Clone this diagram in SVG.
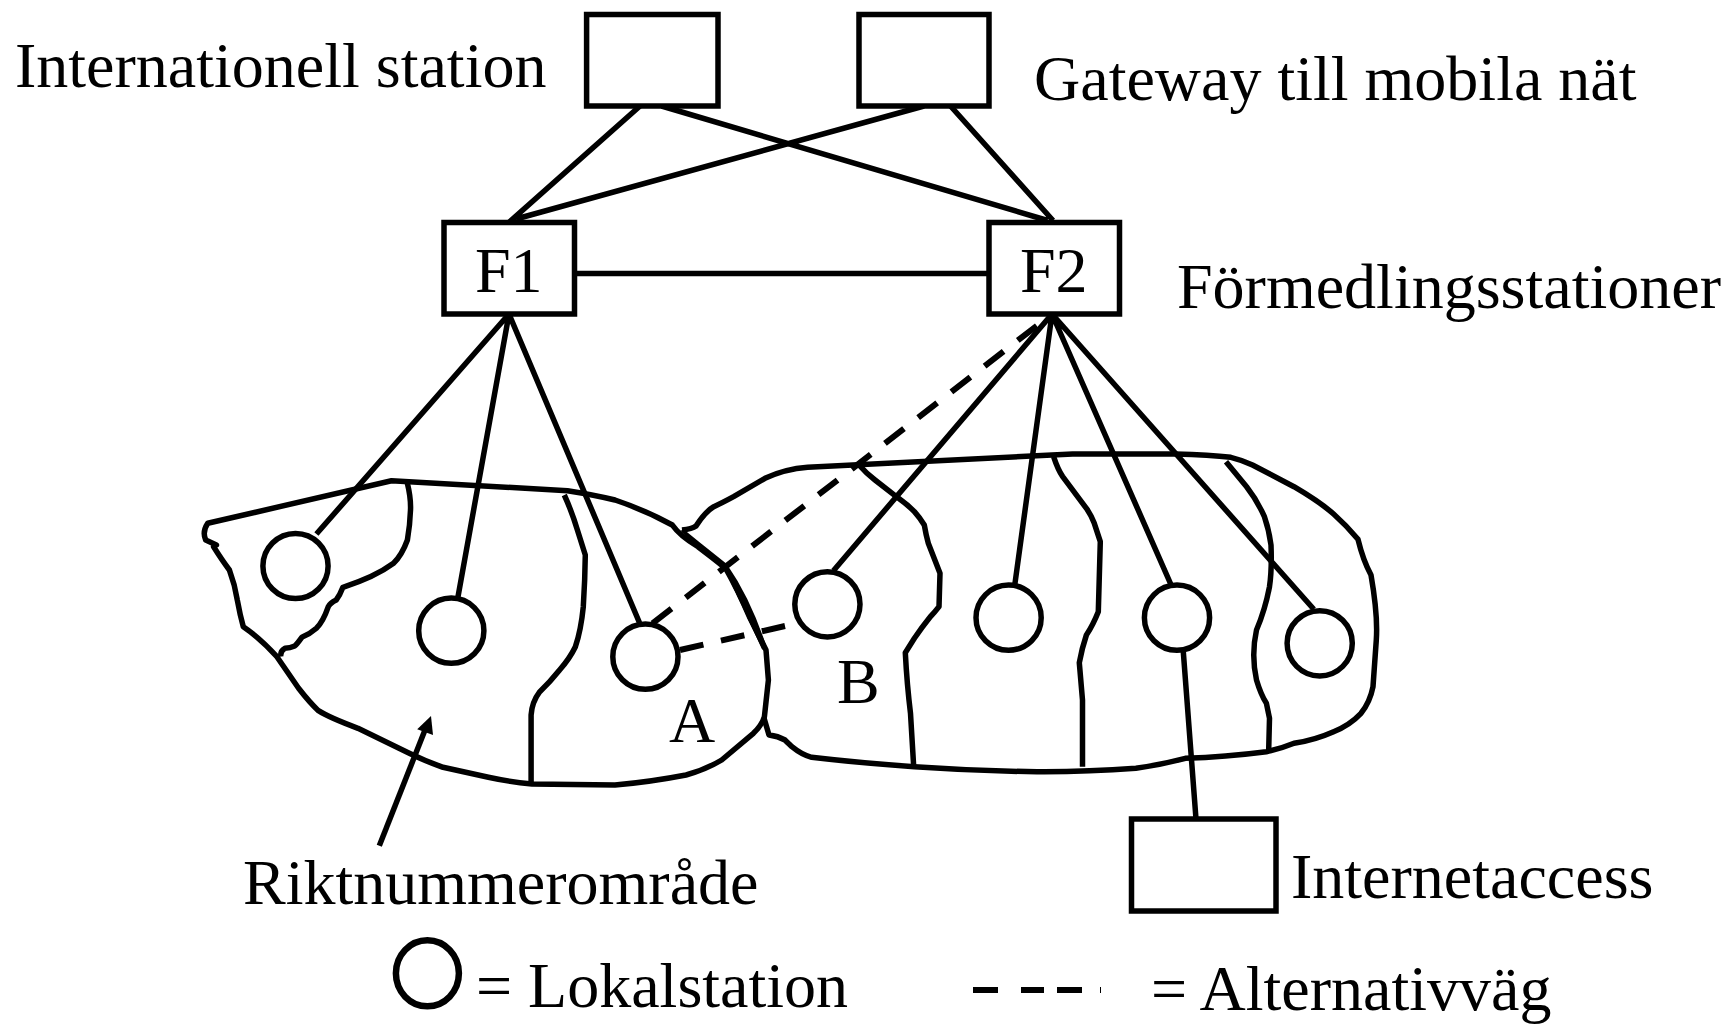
<svg xmlns="http://www.w3.org/2000/svg" width="1729" height="1025" viewBox="0 0 1729 1025">
<style>
text{font-family:"Liberation Serif","Times New Roman",serif;font-size:64px;fill:#000}
.b{fill:#fff;stroke:#000;stroke-width:5.5}
.c{fill:#fff;stroke:#000;stroke-width:5.5}
.l{fill:none;stroke:#000;stroke-width:5.5;stroke-linejoin:round}
.d{fill:none;stroke:#000;stroke-width:6;stroke-dasharray:24 18}
</style>
<rect width="1729" height="1025" fill="#fff"/>
<g id="regions">
<path class="l" d="M207.7,523.3 L391.5,480.7 L567.5,490.7 Q595,495 615,500 Q645,510 672.3,525 Q680,536 698,546.7 Q713,558 725.7,568.3 Q738,590 749.4,616.7 L766,650 L768.4,680 L764.4,716.7 Q762,725 753.4,733.3 L721.7,760 Q705,770 686,775 Q650,782 615,785 L532,784 Q510,782 488.4,777.3 L443,767.3 Q425,761 409.3,753.3 L358,728.3 Q330,718 318.4,710.7 Q310,703 298.6,688.3 L276.9,656.7 Q260,638 243.3,626.7 Q240,615 237.3,600 Q235,585 229.4,570 Q222,560 213.6,546.7 L216.4,545 L205.7,540 Q202,532 207.7,523.3 Z"/>
<path class="l" d="M682,530 Q692,529 696,526 Q705,512 713.8,506.7 Q722,503 733.6,496.7 L765,478.3 Q785,469 807.7,467.3 L1072.6,454 L1175.4,454 Q1210,455 1230.8,457.3 Q1242,460 1252.5,465 L1294,486.7 Q1320,502 1333.6,514 Q1347,526 1358,539.3 Q1363,560 1371,575 Q1378,615 1376.3,640 L1373,686.7 Q1370,702 1361,713.3 Q1350,725 1333.6,731.7 Q1315,740 1294,743.3 Q1280,749 1266.4,751.7 Q1225,757 1185.3,758.3 Q1160,765 1135.9,768.3 Q1085,772 1037,771.7 Q975,771 914.4,766.7 Q860,763 811.6,757.3 Q802,755 791.9,746.7 Q787,742 785,740 Q778,736 769,735 L764,718"/>
<path d="M682,530 L698,546.7 L725.7,568 Q745,608 763,648 L766,650 Q750,600 725.7,565 L698,543 Z" fill="#000" stroke="#000" stroke-width="3"/>
<path class="l" d="M407.4,483.3 Q411,498 410.5,510 Q410,525 407.4,540 Q402,555 393.5,563.3 Q375,577 342.9,587.3 Q340,595 336.2,600 Q330,603 328.3,606.7 Q323,622 316.4,628.3 Q310,634 301.8,637.3 Q297,644 294.7,646 Q290,648 284.8,648.3 Q280,651 280.8,656.7"/>
<path class="l" d="M564.3,495 Q572,512 577.4,530 L585.3,555 Q585,580 583.3,606.7 Q581,630 575.4,646.7 Q570,658 559.6,670 Q550,682 539.8,691.7 Q532,702 531.1,715 L531.1,785"/>
<path class="l" d="M859,465 Q866,473 875,480 L898.6,498.3 Q908,505 914.4,511.7 Q920,518 924.3,525 Q926,535 928.3,543.3 L940,573.3 L939,606.7 Q935,612 930.3,616.7 Q922,627 914.4,638.3 L905.3,652.7 Q907,685 910.5,713.3 L913.6,765"/>
<path class="l" d="M1053.6,456.7 Q1058,470 1062.7,476.7 L1086.4,508.3 Q1091,515 1094.3,523.3 L1100.3,541.7 L1098.3,611.7 Q1093,625 1086.4,635 Q1082,648 1079.3,662.7 L1082.5,700 L1082.5,766.7"/>
<path class="l" d="M1226,461.7 Q1237,475 1246.6,486.7 Q1257,500 1264.4,516.7 Q1269,530 1271,545 Q1272,570 1269.5,586.7 Q1265,610 1256.5,630 Q1251,655 1256.5,680 Q1261,695 1266.4,703.3 L1269.5,718.3 L1268.7,750"/>
</g>
<g id="connectors">
<path class="l" d="M640,106 L509.4,222 M661.6,106 L1047.6,220.5 M924,106 L516,219 M950.5,106 L1053,220.5 M575,273.5 L989,273.5"/>
<path class="l" d="M509,314 L316.4,534 M509,314 L458,596.7 M509,314 L639.5,622.7"/>
<path class="l" d="M1052,314 L833.4,570.7 M1052,314 L1014.9,584 M1052,314 L1170.7,584 M1052,314 L1313.8,609.3 M1183.3,651.7 L1196,819"/>
<path class="d" d="M652.5,623.3 L1052,314"/>
<path class="d" d="M680,650 L785,626"/>
<path class="l" d="M379.3,845.8 L425,730"/>
<polygon points="431,716 417.2,729.3 433,735" fill="#000"/>
</g>
<g id="intl"><rect class="b" x="586.6" y="14.5" width="131.4" height="91.5"/><text x="15" y="87">Internationell station</text></g>
<g id="gateway"><rect class="b" x="859" y="14.5" width="130" height="91.5"/><text x="1034" y="100">Gateway till mobila nät</text></g>
<g id="f1"><rect class="b" x="444" y="222.5" width="130.5" height="91.5"/><text x="475" y="292">F1</text></g>
<g id="f2"><rect class="b" x="989" y="222.5" width="130.5" height="91.5"/><text x="1020" y="292">F2</text></g>
<text x="1177" y="308">Förmedlingsstationer</text>
<g id="a1"><circle class="c" cx="295.5" cy="566" r="32.6"/></g>
<g id="a2"><circle class="c" cx="451.3" cy="630.7" r="32.6"/></g>
<g id="a3"><circle class="c" cx="645.4" cy="656.7" r="32.6"/></g>
<g id="b1"><circle class="c" cx="827.4" cy="604.3" r="32.6"/></g>
<g id="b2"><circle class="c" cx="1008.6" cy="617.7" r="32.6"/></g>
<g id="b3"><circle class="c" cx="1177" cy="617.7" r="32.6"/></g>
<g id="b4"><circle class="c" cx="1319.7" cy="643.3" r="32.6"/></g>
<g id="internet"><rect class="b" x="1131.5" y="819" width="144.5" height="92"/><text x="1291" y="898">Internetaccess</text></g>
<text x="669" y="741.7">A</text>
<text x="837" y="702.7">B</text>
<text x="243" y="904">Riktnummerområde</text>
<g id="legend">
<ellipse cx="427.4" cy="973.3" rx="31.5" ry="33" fill="none" stroke="#000" stroke-width="6.5"/>
<text x="476" y="1007">= Lokalstation</text>
<path d="M973,990 H998 M1021,990 H1044 M1057,990 H1082 M1100,990 H1101" stroke="#000" stroke-width="6" fill="none"/>
<text x="1151" y="1010">= Alternativväg</text>
</g>
</svg>
